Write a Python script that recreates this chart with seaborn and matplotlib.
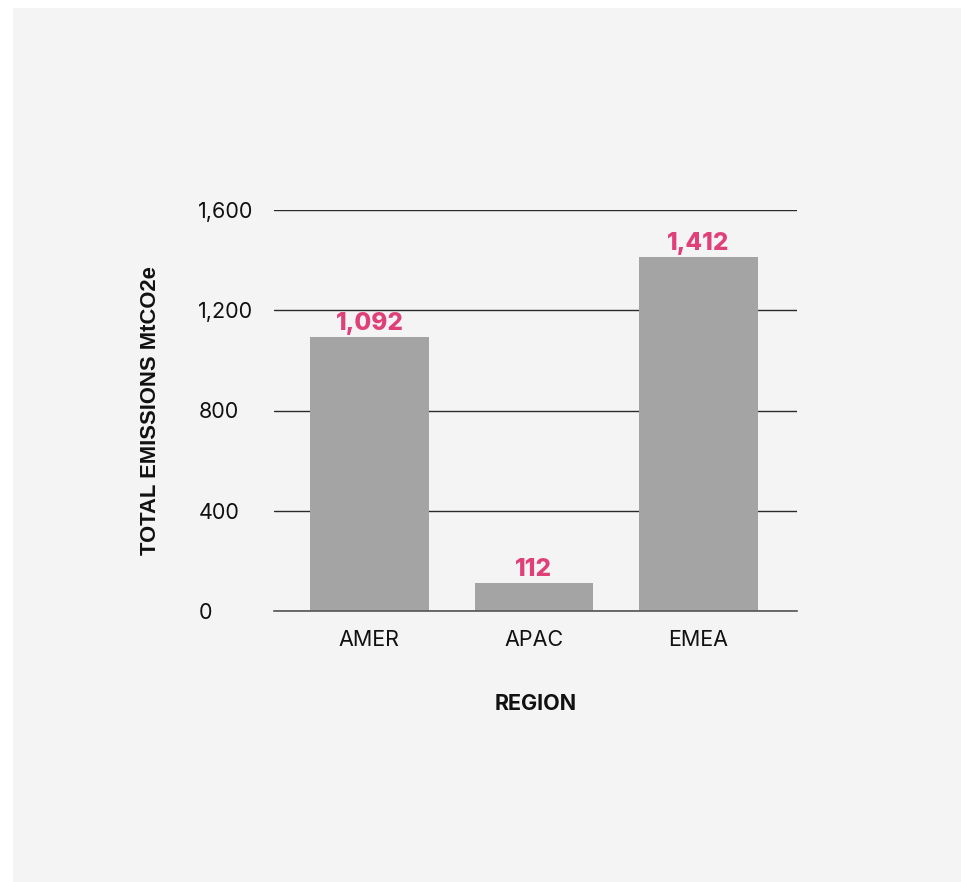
import matplotlib
matplotlib.use("Agg")
import matplotlib.pyplot as plt
import matplotlib.patches as mpatches
import seaborn as sns
import pandas as pd

regions = ["AMER", "APAC", "EMEA"]
emissions = [1092, 112, 1412]
yticks = [0, 400, 800, 1200, 1600]
ytick_labels = ["0", "400", "800", "1,200", "1,600"]

df = pd.DataFrame({"region": regions, "emissions": emissions})

sns.set_theme(style="white")
plt.rcParams["font.family"] = ["Inter", "DejaVu Sans"]

W, H = 961, 882
fig = plt.figure(figsize=(W / 100, H / 100), dpi=100, facecolor="white")
fig.patches.append(mpatches.Rectangle((13 / W, 0), 1 - 13 / W, 1 - 8 / H,
                                      transform=fig.transFigure, facecolor="#f4f4f4",
                                      edgecolor="none", zorder=-10))
ax = fig.add_axes([274 / W, 271 / H, (797 - 274) / W, (672 - 271) / H])
ax.set_facecolor("none")
ax.set_zorder(5)

sns.barplot(data=df, x="region", y="emissions", color="#a4a4a4", width=0.72,
            saturation=1, linewidth=0, edgecolor="none", ax=ax, zorder=2)

ax.set_ylim(0, 1600)
ax.set_xlim(-0.58, 2.6)
ax.set_yticks(yticks)
ax.set_yticklabels(ytick_labels, ha="left")
ax.yaxis.grid(True, color="#2a2a2a", linewidth=1.0, zorder=1)
ax.set_axisbelow(True)
for s in ["top", "right", "left"]:
    ax.spines[s].set_visible(False)
ax.spines["bottom"].set_color("#555555")
ax.spines["bottom"].set_linewidth(1.2)
ax.spines["bottom"].set_zorder(3)
ax.tick_params(axis="both", length=0, labelsize=15.5, colors="#111111")
ax.tick_params(axis="y", pad=54.5)
ax.tick_params(axis="x", pad=13.5)

for cont in ax.containers:
    ax.bar_label(cont, labels=[f"{v:,}" for v in emissions], padding=1.5,
                 color="#e0407a", fontsize=17.5, fontweight="heavy")

ax.set_xlabel("REGION", fontsize=15.5, fontweight="bold", labelpad=31.5, color="#111111")
ax.set_ylabel("TOTAL EMISSIONS MtCO2e", fontsize=15.8, fontweight="bold",
              family=["Liberation Sans", "DejaVu Sans"], labelpad=27, color="#111111")

fig.savefig("out.png", dpi=100, facecolor="white")
